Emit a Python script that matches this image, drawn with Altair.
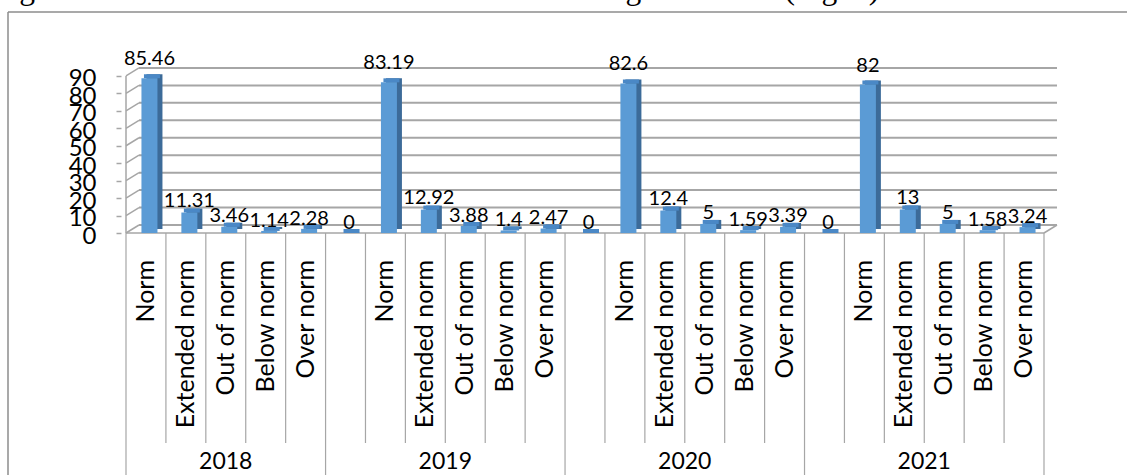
import altair as alt
import pandas as pd

# ---------------- data ----------------
years = ["2018", "2019", "2020", "2021"]
categories = ["Norm", "Extended norm", "Out of norm", "Below norm", "Over norm"]
values_2018 = [85.46, 11.31, 3.46, 1.14, 2.28]
values_2019 = [83.19, 12.92, 3.88, 1.4, 2.47]
values_2020 = [82.6, 12.4, 5, 1.59, 3.39]
values_2021 = [82, 13, 5, 1.58, 3.24]
labels_2018 = ["85.46", "11.31", "3.46", "1.14", "2.28"]
labels_2019 = ["83.19", "12.92", "3.88", "1.4", "2.47"]
labels_2020 = ["82.6", "12.4", "5", "1.59", "3.39"]
labels_2021 = ["82", "13", "5", "1.58", "3.24"]
blank_value = 0          # empty column that opens the 2019-2021 groups
blank_label = "0"
y_ticks = [0, 10, 20, 30, 40, 50, 60, 70, 80, 90]
top_text = "right exceeded two times the number of underweight children (Fig. 1)."

series = [values_2018, values_2019, values_2020, values_2021]
series_labels = [labels_2018, labels_2019, labels_2020, labels_2021]

# ---------------- tables ----------------
rows, groups, dividers = [], [], []
idx = 0
for gi, yr in enumerate(years):
    start = idx
    if gi > 0:
        rows.append({"xc": idx + 0.5, "cat": "", "value": blank_value,
                     "label": blank_label, "zero": 0})
        idx += 1
    for c, v, lab in zip(categories, series[gi], series_labels[gi]):
        rows.append({"xc": idx + 0.5, "cat": c, "value": v, "label": lab, "zero": 0})
        idx += 1
    groups.append({"year": yr, "center": (start + idx) / 2})
    for p in range(start, idx):
        dividers.append({"pos": p, "long": p == start})
dividers.append({"pos": idx, "long": True})
n_cols = idx

bars = pd.DataFrame(rows)
grp = pd.DataFrame(groups)
div = pd.DataFrame(dividers)
grid = pd.DataFrame({"v": y_ticks, "x0": 0, "x1": n_cols})
wall = pd.DataFrame({"v": [0], "v2": [max(y_ticks)], "x0": [0], "x1": [n_cols]})

W, H = 928, 163
FONT = "Lato"
GRID_C = "#a6a6a6"
FRONT_C, TOP_C, SIDE_C = "#5b9bd5", "#4a88c6", "#3c6b99"

X = alt.Scale(domain=[0, n_cols], nice=False, zero=False)
x_enc = lambda f: alt.X(f, type="quantitative", scale=X, axis=None)

# grid / walls scale (slightly flatter than the bars, as in the 3-D projection)
G = alt.Scale(domain=[0, 93.4], nice=False, zero=True)
AX = alt.Axis(values=y_ticks, title=None, domain=False, grid=False, tickSize=5,
              tickColor=GRID_C, tickWidth=1.5, labelFont=FONT, labelFontSize=24,
              labelColor="black", labelPadding=20, labelOffset=3,
              labelOverlap=False, labelBound=False, labelFlush=False)

gridlines = alt.Chart(grid).mark_rule(color=GRID_C, strokeWidth=2, xOffset=13,
                                      x2Offset=13, yOffset=-8, y2Offset=-8).encode(
    x=x_enc("x0"), x2="x1", y=alt.Y("v:Q", scale=G, axis=AX), y2="v")
connectors = alt.Chart(grid).mark_rule(color=GRID_C, strokeWidth=1.5, x2Offset=13,
                                       y2Offset=-8).encode(
    x=x_enc("x0"), x2="x0", y=alt.Y("v:Q", scale=G, axis=AX), y2="v")
leftedge = alt.Chart(wall).mark_rule(color=GRID_C, strokeWidth=1.5).encode(
    x=x_enc("x0"), y=alt.Y("v:Q", scale=G, axis=AX), y2="v2")
floorfront = alt.Chart(wall).mark_rule(color=GRID_C, strokeWidth=1.5).encode(
    x=x_enc("x0"), x2="x1", y=alt.Y("v:Q", scale=G, axis=AX))
floorright = alt.Chart(wall).mark_rule(color=GRID_C, strokeWidth=1.5, x2Offset=13,
                                       y2Offset=-8).encode(
    x=x_enc("x1"), x2="x1", y=alt.Y("v:Q", scale=G, axis=AX), y2="v")
grid_layer = alt.layer(gridlines, connectors, leftedge, floorfront, floorright)

# bars
B = alt.Scale(domain=[0, 90], nice=False, zero=True)
side = alt.Chart(bars).mark_bar(width=16, xOffset=8.5, yOffset=-4, y2Offset=-4,
                                color=SIDE_C).encode(
    x=x_enc("xc"), y=alt.Y("value:Q", scale=B, axis=None), y2="zero")
top = alt.Chart(bars).mark_bar(width=16, xOffset=6, yOffset=-4, y2Offset=0,
                               color=TOP_C).encode(
    x=x_enc("xc"), y=alt.Y("value:Q", scale=B, axis=None), y2="value")
front = alt.Chart(bars).mark_bar(width=16, xOffset=3.5, color=FRONT_C).encode(
    x=x_enc("xc"), y=alt.Y("value:Q", scale=B, axis=None), y2="zero")
bar_layer = alt.layer(side, top, front)

# value labels (their own projection scale)
L = alt.Scale(domain=[0, 163 / 1.92], nice=False, zero=True)
value_labels = alt.Chart(bars).mark_text(font=FONT, fontSize=20, color="black",
                                         baseline="middle", xOffset=3.5,
                                         yOffset=-10).encode(
    x=x_enc("xc"), y=alt.Y("value:Q", scale=L, axis=None), text="label")

# category axis decoration
short_div = alt.Chart(div[~div["long"]]).mark_rule(color=GRID_C, strokeWidth=1.2).encode(
    x=x_enc("pos"), y=alt.value(H), y2=alt.value(H + 210))
long_div = alt.Chart(div[div["long"]]).mark_rule(color=GRID_C, strokeWidth=1.2).encode(
    x=x_enc("pos"), y=alt.value(H), y2=alt.value(H + 260))
cat_labels = alt.Chart(bars).mark_text(font=FONT, fontSize=25, color="black",
                                       angle=270, align="right",
                                       baseline="middle").encode(
    x=x_enc("xc"), y=alt.value(H + 27), text="cat")
year_labels = alt.Chart(grp).mark_text(font=FONT, fontSize=23, color="black",
                                       baseline="middle").encode(
    x=x_enc("center"), y=alt.value(H + 229), text="year")

one = pd.DataFrame({"t": [top_text]})
frame_left = alt.Chart(one).mark_rule(color="#8c8c8c", strokeWidth=1.5).encode(
    x=alt.value(-113), y=alt.value(-58), y2=alt.value(H + 260))
frame_top = alt.Chart(one).mark_rule(color="#8c8c8c", strokeWidth=1.5).encode(
    x=alt.value(-113), x2=alt.value(W + 100), y=alt.value(-58))
heading = alt.Chart(one).mark_text(font="Liberation Serif", fontSize=31.5,
                                   color="black", align="left",
                                   baseline="alphabetic").encode(
    x=alt.value(-121), y=alt.value(-71), text="t")
deco_layer = alt.layer(short_div, long_div, cat_labels, year_labels,
                       frame_left, frame_top, heading)

chart = alt.layer(grid_layer, bar_layer, value_labels, deco_layer).resolve_scale(
    y="independent"
).properties(
    width=W, height=H,
    padding={"left": 121, "top": 70, "right": 78, "bottom": 242},
    autosize=alt.AutoSizeParams(type="none"),
    background="white",
).configure_view(stroke=None)

chart.save("out.html", embed_options={"renderer": "svg", "actions": False})
